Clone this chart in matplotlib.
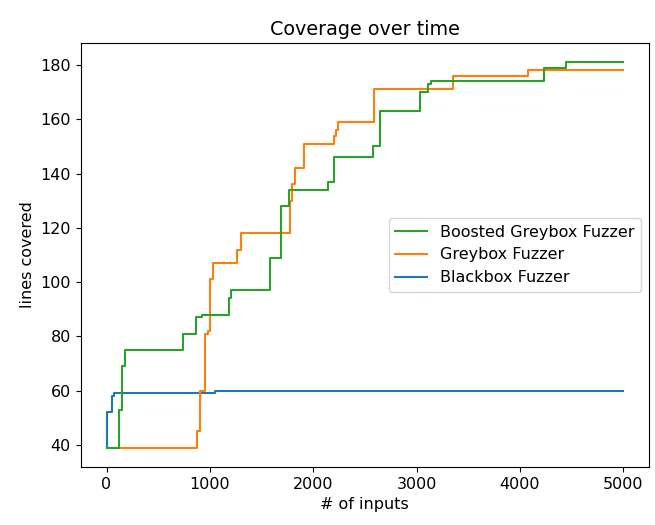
import matplotlib
matplotlib.use("Agg")
import matplotlib.pyplot as plt

plt.rcParams["font.size"] = 11.5

# Blackbox Fuzzer
black_x = [0, 1, 50, 70, 1045, 5000]
black_y = [39, 52, 58, 59, 60, 60]

# Greybox Fuzzer
grey_x = [0, 878, 901, 949, 981, 998, 1035, 1258, 1306, 1772, 1795, 1824, 1914,
          2198, 2220, 2242, 2590, 3356, 4077, 5000]
grey_y = [39, 45, 60, 81, 82, 101, 107, 112, 118, 130, 136, 142, 151,
          154, 156, 159, 171, 176, 178, 178]

# Boosted Greybox Fuzzer
boost_x = [0, 122, 150, 177, 740, 862, 920, 1184, 1207, 1580, 1689, 1770,
           2140, 2198, 2580, 2645, 3034, 3110, 3144, 4231, 4447, 5000]
boost_y = [39, 53, 69, 75, 81, 87, 88, 94, 97, 109, 128, 134,
           137, 146, 150, 163, 170, 173, 174, 179, 181, 181]

fig = plt.figure(figsize=(6.55, 5.25), dpi=100)
ax = fig.add_axes([0.1232, 0.1105, 0.8677, 0.8076])

l_black, = ax.plot(black_x, black_y, drawstyle="steps-post", color="C0", label="Blackbox Fuzzer")
l_grey, = ax.plot(grey_x, grey_y, drawstyle="steps-post", color="C1", label="Greybox Fuzzer")
l_boost, = ax.plot(boost_x, boost_y, drawstyle="steps-post", color="C2", label="Boosted Greybox Fuzzer")

ax.set_title("Coverage over time")
ax.set_xlabel("# of inputs")
ax.set_ylabel("lines covered")
ax.set_xticks([0, 1000, 2000, 3000, 4000, 5000])
ax.set_yticks([40, 60, 80, 100, 120, 140, 160, 180])
ax.legend(handles=[l_boost, l_grey, l_black], loc="center right")

fig.savefig("out.png", dpi=100)
